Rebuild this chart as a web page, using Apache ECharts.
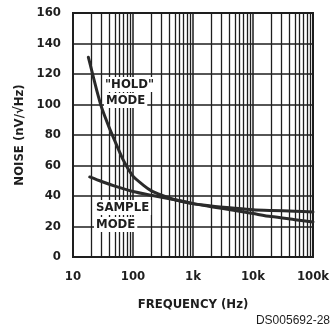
<!DOCTYPE html>
<html><head><meta charset="utf-8">
<script src="https://cdn.jsdelivr.net/npm/echarts@6/dist/echarts.min.js"></script>
<style>html,body{margin:0;padding:0;background:#fff}#c{width:333px;height:332px}</style>
</head><body><div id="c"></div>
<script>
const holdFreq   = [18, 20, 25, 30, 40, 50, 70, 100, 150, 200, 300, 500, 1000, 2000, 5000, 10000, 20000, 50000, 100000];
const holdNoise  = [131, 124, 109, 98, 85, 76, 63, 53, 47, 43.5, 40.5, 37.5, 35, 33, 30.5, 28.5, 26.5, 24.5, 23];
const sampleFreq  = [19, 30, 50, 100, 200, 500, 1000, 2000, 5000, 10000, 20000, 50000, 100000];
const sampleNoise = [52.5, 49.5, 46.5, 43, 40.5, 37.5, 35, 33.5, 32, 31, 30.5, 30, 29.5];
const yTicks = [0, 20, 40, 60, 80, 100, 120, 140, 160];
const xTickLabels = {10: '10', 100: '100', 1000: '1k', 10000: '10k', 100000: '100k'};
const minorX = [];
[10, 100, 1000, 10000].forEach(d => { for (let k = 2; k <= 9; k++) minorX.push(d * k); });

const F = '"Liberation Sans Narrow","DejaVu Sans Condensed",sans-serif';
const ink = '#1e1e1e';
const chart = echarts.init(document.getElementById('c'));
chart.setOption({
  animation: false,
  backgroundColor: '#fff',
  grid: {left: 73, top: 13, right: 20, bottom: 75, show: true, borderColor: ink, borderWidth: 2, backgroundColor: 'transparent'},
  xAxis: {
    type: 'log', logBase: 10, min: 10, max: 100000,
    name: 'FREQUENCY (Hz)', nameLocation: 'middle', nameGap: 41,
    nameTextStyle: {fontFamily: F, fontWeight: 'bold', fontSize: 13, color: ink},
    axisLine: {show: true, lineStyle: {color: ink, width: 2}},
    axisTick: {show: false},
    splitLine: {show: true, lineStyle: {color: ink, width: 1.5}},
    axisLabel: {margin: 13, fontFamily: F, fontWeight: 'bold', fontSize: 13, color: ink,
      formatter: v => xTickLabels[Math.round(v)] || ''}
  },
  yAxis: {
    type: 'value', min: 0, max: 160, interval: 20,
    name: 'NOISE (nV/\u221AHz)', nameLocation: 'middle', nameGap: 46,
    nameTextStyle: {fontFamily: F, fontWeight: 'bold', fontSize: 13, color: ink},
    axisLine: {show: true, lineStyle: {color: ink, width: 2}},
    axisTick: {show: false},
    splitLine: {show: true, lineStyle: {color: ink, width: 1.5}},
    axisLabel: {margin: 12, fontFamily: F, fontWeight: 'bold', fontSize: 13, color: ink,
      formatter: v => yTicks.includes(v) ? String(v) : ''}
  },
  series: [
    {type: 'line', data: [], silent: true,
     markLine: {silent: true, symbol: 'none', label: {show: false},
       lineStyle: {color: ink, width: 1.3, type: 'solid'},
       data: minorX.map(x => ({xAxis: x}))}},
    {type: 'line', name: 'hold', smooth: 0.25, showSymbol: false, z: 5,
     lineStyle: {color: '#2a2a2a', width: 3, join: 'round', cap: 'round'}, data: holdFreq.map((f, i) => [f, holdNoise[i]])},
    {type: 'line', name: 'sample', smooth: 0.25, showSymbol: false, z: 5,
     lineStyle: {color: '#2a2a2a', width: 3, join: 'round', cap: 'round'}, data: sampleFreq.map((f, i) => [f, sampleNoise[i]])}
  ],
  graphic: [
    {type: 'text', left: 103, top: 77, z: 10, style: {text: '"HOLD"', font: 'bold 13px ' + F, fill: ink, backgroundColor: '#fff', padding: [1, 2]}},
    {type: 'text', left: 104, top: 93, z: 10, style: {text: 'MODE', font: 'bold 13px ' + F, fill: ink, backgroundColor: '#fff', padding: [1, 2]}},
    {type: 'text', left: 94, top: 200, z: 10, style: {text: 'SAMPLE', font: 'bold 13px ' + F, fill: ink, backgroundColor: '#fff', padding: [1, 2]}},
    {type: 'text', left: 94, top: 217, z: 10, style: {text: 'MODE', font: 'bold 13px ' + F, fill: ink, backgroundColor: '#fff', padding: [1, 2]}},
    {type: 'text', right: 3, top: 315, z: 10, style: {text: 'DS005692-28', font: '12px "Liberation Sans",Arial,sans-serif', fill: ink}}
  ]
});
</script></body></html>
